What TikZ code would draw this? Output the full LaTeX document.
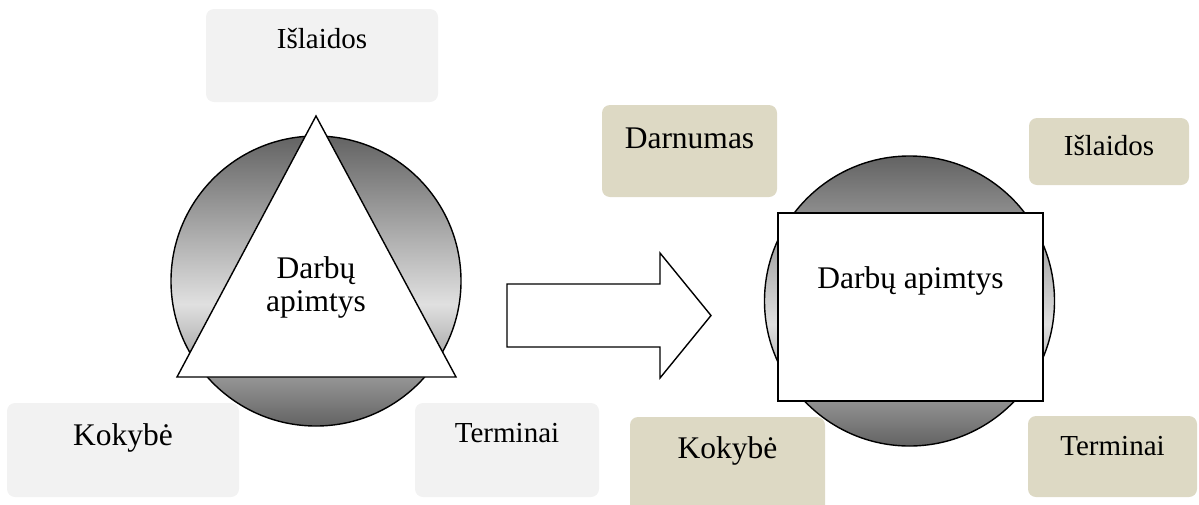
\documentclass[tikz,border=0pt]{standalone}
\usepackage{fontspec}
\setmainfont{Liberation Serif}
\usetikzlibrary{positioning}
\definecolor{boxgrey}{HTML}{F2F2F2}
\definecolor{boxtan}{HTML}{DDD9C4}
\definecolor{orbdark}{HTML}{636363}
\definecolor{orblight}{HTML}{E0E0E0}
\pgfdeclareverticalshading{orbshade}{100bp}{color(0bp)=(orbdark); color(25bp)=(orbdark);
    color(46bp)=(orblight); color(75bp)=(orbdark); color(100bp)=(orbdark)}

\begin{document}
\begin{tikzpicture}[
    x=1pt, y=-1pt,
    big/.style={font=\fontsize{31.5}{33}\selectfont},
    small/.style={font=\fontsize{29}{33}\selectfont},
    greybox/.style={rectangle, rounded corners=8pt, fill=boxgrey, inner sep=0pt},
    tanbox/.style={rectangle, rounded corners=8pt, fill=boxtan, inner sep=0pt},
    orb/.style={circle, draw=black, line width=1.4pt, shade, shading=orbshade,
                minimum size=290pt, inner sep=0pt},
    outl/.style={draw=black, line width=1.4pt, fill=white, line join=miter},
]
\useasboundingbox (0,0) rectangle (1199,504);

% before: the triangle in the circle
\node[orb] (orbL) at (316,281) {};
\draw[outl] (316,116) -- (456,377) -- (177,377) -- cycle;
\node[big, align=center] (scopeL) at (316,287) {Darbų\\apimtys};

\node[greybox, minimum width=232pt, minimum height=93pt] (costL) at (322,55.5) {};
\node[small, anchor=base] (costLt) at (322,48) {Išlaidos};
\node[greybox, minimum width=232pt, minimum height=94pt] (qualL) at (123,450) {};
\node[big, anchor=base] (qualLt) at (123,445) {Kokybė};
\node[greybox, minimum width=184pt, minimum height=94pt] (timeL) at (507,450) {};
\node[small, anchor=base] (timeLt) at (507,442) {Terminai};

% the big arrow
\draw[outl] (507,284) -- (660,284) -- (660,253) -- (711,315.5) -- (660,378)
    -- (660,347) -- (507,347) -- cycle;

% after: the box in the circle
\node[orb] (orbR) at (909.5,301) {};
\node[outl, rectangle, minimum width=265pt, minimum height=188pt, inner sep=0pt]
    (scopeR) at (910.5,307) {};
\node[big, anchor=base] (scopeRt) at (910.5,288) {Darbų apimtys};

\node[tanbox, minimum width=175pt, minimum height=92pt] (sustR) at (689.5,151) {};
\node[big, anchor=base] (sustRt) at (689.5,148) {Darnumas};
\node[tanbox, minimum width=160pt, minimum height=67pt] (costR) at (1109,151.5) {};
\node[small, anchor=base] (costRt) at (1109,155) {Išlaidos};
\node[tanbox, minimum width=195pt, minimum height=100pt] (qualR) at (727.5,467) {};
\node[big, anchor=base] (qualRt) at (727.5,458) {Kokybė};
\node[tanbox, minimum width=169pt, minimum height=81pt] (timeR) at (1112.5,456.5) {};
\node[small, anchor=base] (timeRt) at (1112.5,455) {Terminai};
\end{tikzpicture}
\end{document}
